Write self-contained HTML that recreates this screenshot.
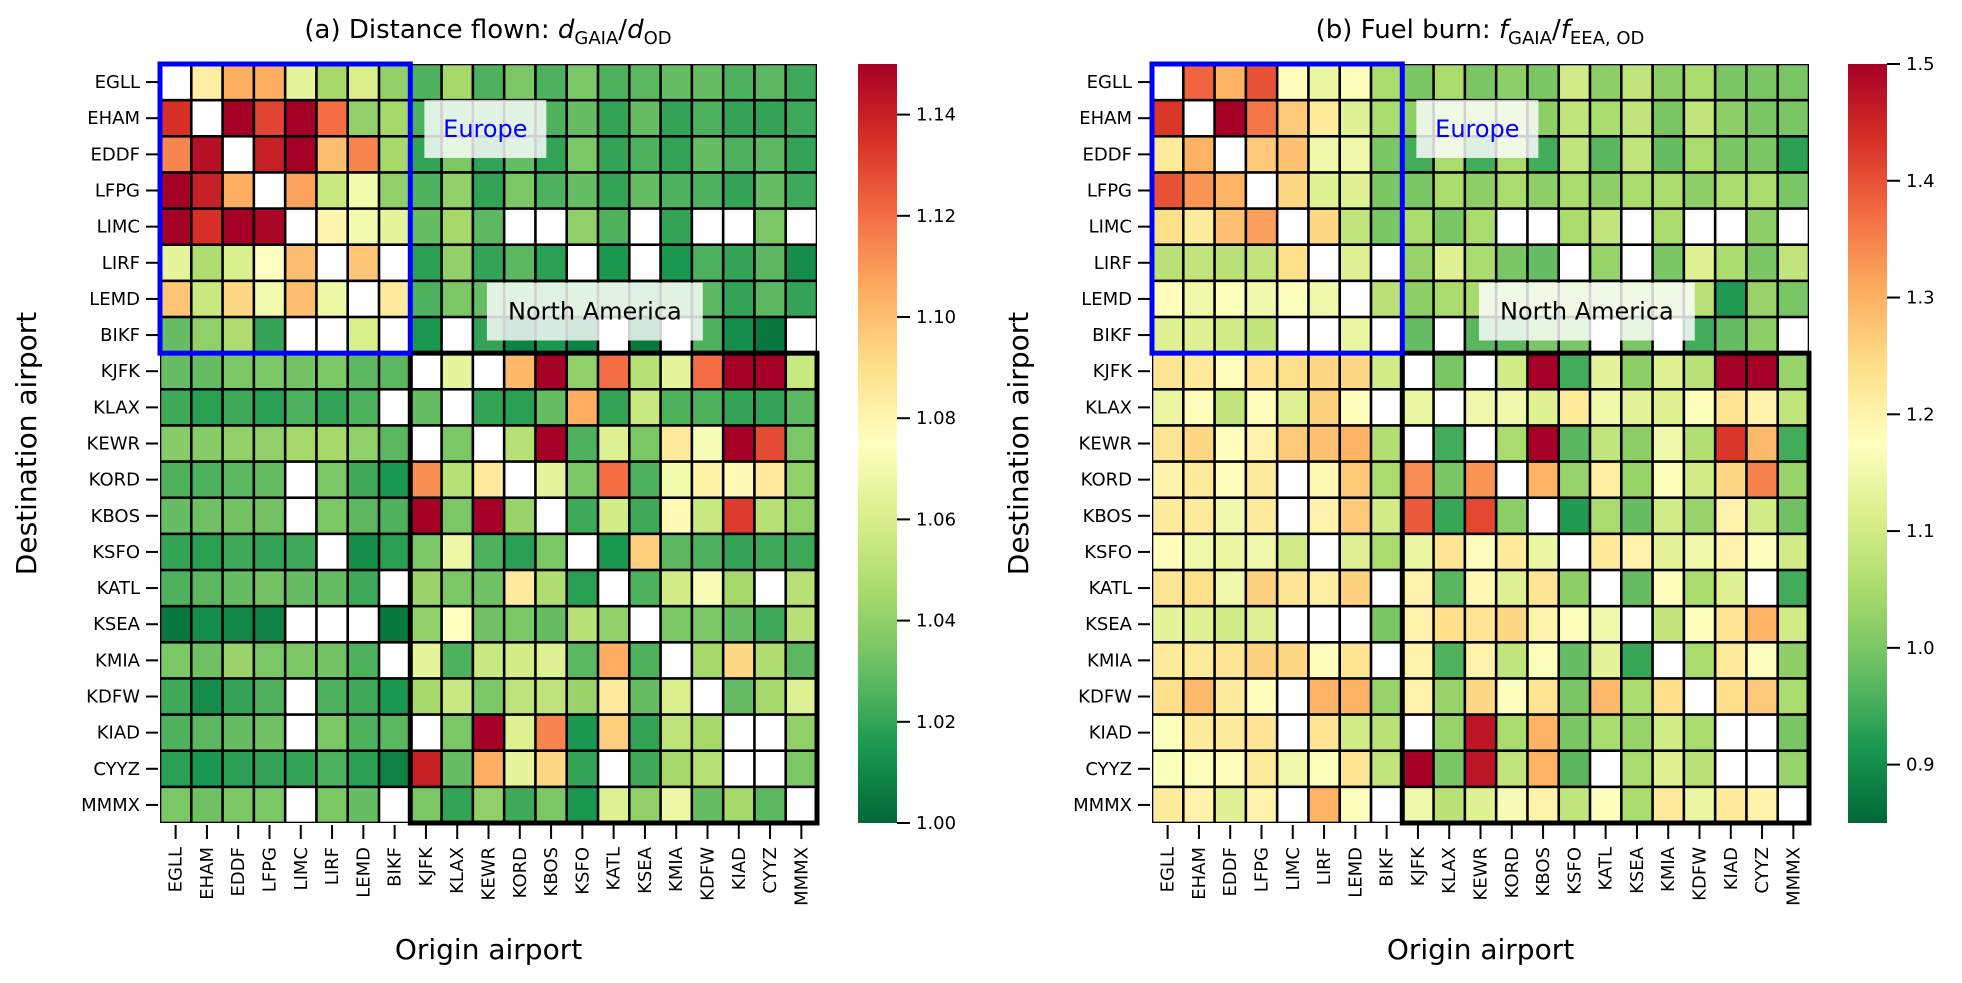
<!DOCTYPE html>
<html><head><meta charset="utf-8"><style>
html,body{margin:0;padding:0;background:#fff;}
svg{display:block;font-family:"DejaVu Sans","Liberation Sans",sans-serif;}
</style></head><body>
<svg id="fig" width="1962" height="983" viewBox="0 0 1962 983" xmlns="http://www.w3.org/2000/svg">
<defs>
<linearGradient id="cbgrad" x1="0" y1="1" x2="0" y2="0">
<stop offset="0" stop-color="#006837"/><stop offset="0.1" stop-color="#1a9850"/><stop offset="0.2" stop-color="#66bd63"/><stop offset="0.3" stop-color="#a6d96a"/><stop offset="0.4" stop-color="#d9ef8b"/><stop offset="0.5" stop-color="#ffffbf"/><stop offset="0.6" stop-color="#fee08b"/><stop offset="0.7" stop-color="#fdae61"/><stop offset="0.8" stop-color="#f46d43"/><stop offset="0.9" stop-color="#d73027"/><stop offset="1" stop-color="#a50026"/>
</linearGradient>
</defs>
<text x="488" y="38" font-size="26" text-anchor="middle">(a) Distance flown: <tspan font-style="italic">d</tspan><tspan font-size="18" dy="6">GAIA</tspan><tspan dy="-6">/</tspan><tspan font-style="italic">d</tspan><tspan font-size="18" dy="6">OD</tspan></text>
<text x="1480" y="38" font-size="26" text-anchor="middle">(b) Fuel burn: <tspan font-style="italic">f</tspan><tspan font-size="18" dy="6">GAIA</tspan><tspan dy="-6">/</tspan><tspan font-style="italic">f</tspan><tspan font-size="18" dy="6">EEA, OD</tspan></text>
<g id="panelA"></g>
<g id="panelB"></g>
</svg>
<script>
const airports = ["EGLL","EHAM","EDDF","LFPG","LIMC","LIRF","LEMD","BIKF","KJFK","KLAX","KEWR","KORD","KBOS","KSFO","KATL","KSEA","KMIA","KDFW","KIAD","CYYZ","MMMX"];
const N = null;
const distRows = [
[N,1.083,1.105,1.105,1.065,1.045,1.06,1.04,1.025,1.045,1.025,1.035,1.025,1.035,1.025,1.028,1.03,1.03,1.025,1.028,1.022],
[1.135,N,1.15,1.13,1.15,1.12,1.04,1.045,1.025,1.03,1.03,1.03,1.025,1.03,1.02,1.03,1.02,1.025,1.02,1.02,1.022],
[1.115,1.145,N,1.14,1.15,1.1,1.115,1.045,1.02,1.035,1.02,1.03,1.02,1.035,1.02,1.025,1.02,1.03,1.025,1.028,1.02],
[1.15,1.14,1.105,N,1.108,1.055,1.07,1.04,1.025,1.04,1.02,1.035,1.025,1.03,1.02,1.03,1.025,1.025,1.02,1.03,1.022],
[1.15,1.135,1.15,1.148,N,1.08,1.07,1.065,1.03,1.045,1.028,N,N,1.04,1.025,N,1.02,N,N,1.035,N],
[1.065,1.048,1.06,1.075,1.1,N,1.098,N,1.018,1.04,1.02,1.028,1.018,N,1.015,N,1.015,1.025,1.02,1.028,1.012],
[1.098,1.055,1.092,1.07,1.1,1.068,N,1.085,1.025,1.035,1.03,1.03,1.025,1.03,1.03,1.025,1.03,1.028,1.02,1.028,1.02],
[1.03,1.04,1.048,1.02,N,N,1.06,N,1.015,N,1.02,1.008,1.015,1.008,N,1.005,N,1.025,1.012,1.005,N],
[1.03,1.03,1.035,1.035,1.033,1.035,1.028,1.028,N,1.065,N,1.102,1.15,1.04,1.12,1.05,1.065,1.12,1.15,1.15,1.055],
[1.022,1.018,1.022,1.018,1.025,1.02,1.025,N,1.03,N,1.02,1.018,1.03,1.105,1.02,1.055,1.025,1.025,1.02,1.02,1.028],
[1.038,1.038,1.04,1.04,1.045,1.045,1.04,1.028,N,1.035,N,1.05,1.15,1.025,1.062,1.035,1.085,1.072,1.15,1.128,1.035],
[1.025,1.025,1.028,1.03,N,1.035,1.022,1.015,1.112,1.05,1.085,N,1.065,1.035,1.12,1.025,1.07,1.082,1.078,1.085,1.04],
[1.03,1.032,1.033,1.033,N,1.035,1.028,1.025,1.15,1.035,1.15,1.042,N,1.022,1.058,1.022,1.078,1.055,1.132,1.05,1.04],
[1.02,1.018,1.022,1.02,1.022,N,1.012,1.018,1.035,1.068,1.025,1.018,1.035,N,1.015,1.095,1.028,1.025,1.02,1.022,1.022],
[1.025,1.028,1.03,1.033,1.03,1.03,1.022,N,1.042,1.035,1.032,1.085,1.048,1.018,N,1.025,1.058,1.072,1.045,N,1.05],
[1.005,1.012,1.01,1.008,N,N,N,1.005,1.04,1.075,1.032,1.035,1.03,1.05,1.04,N,1.035,1.035,1.03,1.022,1.05],
[1.035,1.032,1.042,1.035,1.035,1.033,1.025,N,1.065,1.025,1.055,1.058,1.062,1.028,1.105,1.025,N,1.045,1.092,1.048,1.028],
[1.022,1.012,1.02,1.025,N,1.025,1.022,1.015,1.045,1.055,1.035,1.052,1.052,1.042,1.085,1.03,1.06,N,1.03,1.045,1.062],
[1.025,1.028,1.03,1.032,N,1.035,1.025,1.028,N,1.035,1.15,1.062,1.115,1.015,1.095,1.02,1.052,1.045,N,N,1.04],
[1.018,1.015,1.018,1.02,1.02,1.025,1.018,1.008,1.14,1.03,1.105,1.065,1.092,1.02,N,1.022,1.045,1.05,N,N,1.035],
[1.035,1.032,1.035,1.035,N,1.035,1.03,N,1.035,1.02,1.04,1.022,1.035,1.015,1.062,1.04,1.068,1.03,1.045,1.028,N]
];
const fuelRows = [
[N,1.38,1.3,1.4,1.18,1.14,1.17,1.05,1.0,1.05,1.0,1.02,1.0,1.1,1.02,1.08,1.02,1.05,1.0,1.0,1.0],
[1.43,N,1.5,1.36,1.27,1.22,1.12,1.05,1.02,1.05,1.05,1.05,1.02,1.08,1.05,1.08,1.0,1.08,1.02,1.0,1.0],
[1.22,1.3,N,1.27,1.28,1.15,1.15,1.0,0.95,1.05,0.95,1.05,0.95,1.08,0.97,1.08,0.98,1.05,1.0,1.0,0.93],
[1.4,1.33,1.3,N,1.25,1.12,1.12,1.0,1.0,1.05,1.02,1.05,1.02,1.05,1.02,1.05,1.05,1.02,1.05,1.05,1.0],
[1.24,1.22,1.28,1.32,N,1.25,1.08,1.0,1.05,1.0,1.05,N,N,1.05,1.08,N,1.05,N,N,1.02,N],
[1.07,1.08,1.07,1.08,1.24,N,1.12,N,1.03,1.12,1.05,1.0,0.98,N,1.03,N,1.0,1.12,1.05,1.0,1.08],
[1.18,1.15,1.17,1.15,1.17,1.15,N,1.07,1.02,1.05,1.05,1.05,1.05,1.05,1.05,1.05,1.05,1.07,0.92,1.03,1.0],
[1.12,1.12,1.1,1.08,N,N,1.14,N,0.98,N,0.97,0.97,1.0,1.0,N,1.0,N,0.95,0.98,1.02,N],
[1.23,1.22,1.18,1.23,1.24,1.25,1.25,1.1,N,1.0,N,1.1,1.5,0.95,1.13,1.02,1.12,1.07,1.5,1.5,1.03],
[1.14,1.18,1.08,1.18,1.12,1.26,1.18,N,1.14,N,1.15,1.15,1.12,1.22,1.15,1.13,1.12,1.17,1.23,1.2,1.08],
[1.23,1.25,1.18,1.2,1.27,1.28,1.3,1.06,N,0.95,N,1.05,1.5,0.97,1.08,1.02,1.15,1.06,1.43,1.29,0.95],
[1.2,1.22,1.18,1.22,N,1.19,1.27,1.05,1.34,1.0,1.33,N,1.3,1.03,1.21,1.03,1.18,1.1,1.25,1.35,1.03],
[1.22,1.22,1.15,1.22,N,1.2,1.27,1.1,1.39,0.94,1.41,1.02,N,0.92,1.05,0.98,1.1,1.03,1.2,1.1,0.99],
[1.18,1.15,1.14,1.15,1.1,N,1.12,1.05,1.14,1.23,1.18,1.22,1.14,N,1.22,1.2,1.13,1.15,1.2,1.17,1.1],
[1.23,1.24,1.15,1.26,1.23,1.21,1.26,N,1.2,0.97,1.19,1.12,1.23,1.02,N,0.98,1.18,1.05,1.12,N,0.95],
[1.13,1.12,1.1,1.12,N,N,N,1.0,1.2,1.24,1.23,1.25,1.2,1.17,1.15,N,1.08,1.17,1.23,1.3,1.1],
[1.22,1.22,1.23,1.26,1.25,1.18,1.23,N,1.2,0.96,1.2,1.08,1.17,0.98,1.13,0.94,N,1.05,1.22,1.17,1.02],
[1.24,1.29,1.22,1.18,N,1.3,1.3,1.03,1.2,1.03,1.25,1.17,1.23,1.0,1.29,1.05,1.24,N,1.24,1.27,1.05],
[1.17,1.22,1.22,1.23,N,1.23,1.1,1.07,N,1.03,1.47,1.05,1.3,1.0,1.05,1.03,1.1,1.05,N,N,1.0],
[1.17,1.17,1.18,1.22,1.15,1.17,1.23,1.08,1.5,1.0,1.47,1.08,1.3,0.97,N,1.05,1.12,1.07,N,N,1.03],
[1.22,1.2,1.12,1.2,N,1.3,1.17,N,1.15,1.07,1.12,1.16,1.2,1.08,1.17,1.05,1.22,1.14,1.22,1.2,N]
];
const distTicks = [1.00,1.02,1.04,1.06,1.08,1.10,1.12,1.14];
const fuelTicks = [0.9,1.0,1.1,1.2,1.3,1.4,1.5];

const NS = "http://www.w3.org/2000/svg";
const STOPS = ["#006837","#1a9850","#66bd63","#a6d96a","#d9ef8b","#ffffbf","#fee08b","#fdae61","#f46d43","#d73027","#a50026"];
function hex(c){return [parseInt(c.slice(1,3),16),parseInt(c.slice(3,5),16),parseInt(c.slice(5,7),16)];}
function cmap(t){
  t = Math.max(0,Math.min(1,t));
  const p = t*10, i = Math.min(9,Math.floor(p)), f = p-i;
  const a = hex(STOPS[i]), b = hex(STOPS[i+1]);
  return "rgb("+a.map((v,k)=>Math.round(v+(b[k]-v)*f)).join(",")+")";
}
function mk(tag, attrs, parent){
  const e = document.createElementNS(NS, tag);
  for (const k in attrs) e.setAttribute(k, attrs[k]);
  parent.appendChild(e); return e;
}
function drawPanel(g, rows, x0, cbx, vmin, vmax, ticks, fmt, ylabelX){
  const x1 = x0+657, y0 = 64, y1 = 823;
  const n = airports.length, cw = (x1-x0)/n, ch = (y1-y0)/n;
  const xs = i => x0 + i*cw, ys = j => y0 + j*ch;
  const bg = mk("rect",{x:x0,y:y0,width:x1-x0,height:y1-y0,fill:"#000"},g);
  
  
  rows.forEach((row,j)=>{
    row.forEach((v,i)=>{
      const r = mk("rect",{x:xs(i)+1.3,y:ys(j)+1.3,width:cw-2.6,height:ch-2.6,
        fill: v===null ? "#ffffff" : cmap((v-vmin)/(vmax-vmin))},g);
      
      
    });
  });
  const na = mk("rect",{x:xs(8),y:ys(8),width:xs(21)-xs(8),height:ys(21)-ys(8),fill:"none",stroke:"#000","stroke-width":5},g);
  
  
  const eu = mk("rect",{x:xs(0),y:ys(0),width:xs(8)-xs(0),height:ys(8)-ys(0),fill:"none",stroke:"#0000ff","stroke-width":5},g);
  
  
  const eb = mk("rect",{x:x0+8.45*cw,y:ys(1.0),width:3.9*cw,height:1.6*ch,fill:"#ffffff","fill-opacity":0.82},g);
  
  
  const et = mk("text",{x:x0+10.4*cw,y:ys(1.8)+8,"font-size":24,fill:"#0000ff","text-anchor":"middle"},g);
  et.textContent = "Europe";
  
  
  const nb = mk("rect",{x:x0+10.45*cw,y:ys(6.05),width:6.9*cw,height:1.6*ch,fill:"#ffffff","fill-opacity":0.82},g);
  
  
  const nt = mk("text",{x:x0+13.9*cw,y:ys(6.85)+8,"font-size":24,fill:"#000","text-anchor":"middle"},g);
  nt.textContent = "North America";
  
  
  airports.forEach((a,k)=>{
    const yc = ys(k+0.5);
    const t1 = mk("line",{x1:x0-14,x2:x0-2,y1:yc,y2:yc,stroke:"#000","stroke-width":2},g);
    
    
    const l1 = mk("text",{x:x0-20,y:yc+6,"font-size":18,"text-anchor":"end"},g);
    l1.textContent = a;
    
    
    const xc = xs(k+0.5);
    const t2 = mk("line",{x1:xc,x2:xc,y1:y1+2,y2:y1+16,stroke:"#000","stroke-width":2},g);
    
    
    const l2 = mk("text",{x:0,y:0,"font-size":18,"text-anchor":"end",transform:"translate("+(xc+6)+","+(y1+24)+") rotate(-90)"},g);
    l2.textContent = a;
    
    
  });
  const xl = mk("text",{x:(x0+x1)/2,y:959,"font-size":28,"text-anchor":"middle"},g);
  xl.textContent = "Origin airport";
  
  
  const yl = mk("text",{x:0,y:0,"font-size":28,"text-anchor":"middle",transform:"translate("+ylabelX+","+((y0+y1)/2)+") rotate(-90)"},g);
  yl.textContent = "Destination airport";
  
  
  const cb = mk("rect",{x:cbx,y:y0,width:39,height:y1-y0,fill:"url(#cbgrad)"},g);
  
  
  const cy = v => y1 - (v-vmin)/(vmax-vmin)*(y1-y0);
  ticks.forEach(v=>{
    const y = cy(v);
    const tl = mk("line",{x1:cbx+39,x2:cbx+52,y1:y,y2:y,stroke:"#000","stroke-width":2},g);
    
    
    const tt = mk("text",{x:cbx+58,y:y+6,"font-size":18},g);
    tt.textContent = v.toFixed(fmt);
    
    
  });
}
drawPanel(document.getElementById("panelA"), distRows, 160, 858, 1.00, 1.15, distTicks, 2, 36);
drawPanel(document.getElementById("panelB"), fuelRows, 1152, 1848, 0.85, 1.5, fuelTicks, 1, 1028);
</script>
</body></html>
